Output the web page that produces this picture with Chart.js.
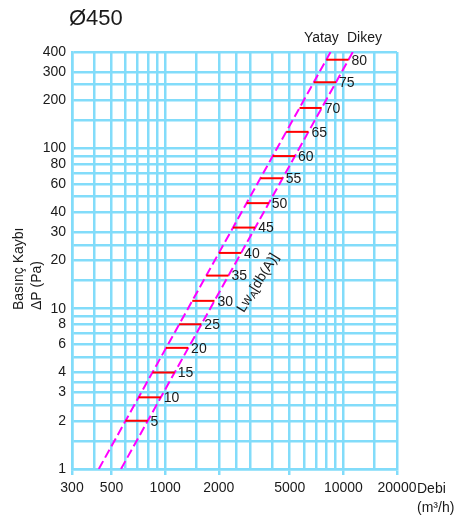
<!DOCTYPE html>
<html><head><meta charset="utf-8">
<script src="https://cdn.jsdelivr.net/npm/chart.js@4/dist/chart.umd.min.js"></script>
<style>html,body{margin:0;padding:0;background:#fff;} canvas{display:block;}</style>
</head><body>
<canvas id="c" width="454" height="528"></canvas>
<script>
const xGrid = [300,400,500,600,700,800,900,1000,1500,2000,2500,3000,4000,5000,6000,7000,8000,9000,10000,15000,20000];
const xLabels = [300,500,1000,2000,5000,10000,20000];
const yGrid = [1,1.5,2,2.5,3,3.5,4,5,6,7,8,9,10,15,20,25,30,40,50,60,70,80,90,100,150,200,250,300,400];
const yLabels = [1,2,3,4,6,8,10,20,30,40,60,80,100,200,300,400];
const yatayLine = [{x:424,y:1},{x:8480,y:400}];
const dikeyLine = [{x:565,y:1},{x:11300,y:400}];
const soundLevels = [5,10,15,20,25,30,35,40,45,50,55,60,65,70,75,80];
const segPressure = [2.0,2.8,4.0,5.7,8.0,11.2,16.1,22.3,32.1,45.6,65.2,89.7,127,179,259,358];
const segYatayFlow = [598,709,848,1010,1198,1419,1701,2002,2402,2863,3424,4016,4778,5673,6823,8022];
const segDikeyFlow = [797,945,1130,1345,1596,1891,2267,2668,3201,3815,4562,5351,6367,7559,9092,10690];

const GRID = '#82dcfa';
const TXT = '#1a1a1a';
const FONT = '"Liberation Sans", Arial, sans-serif';

const datasets = [];
soundLevels.forEach((lv, i) => {
  datasets.push({
    label: 'Lw ' + lv,
    data: [{x: segYatayFlow[i], y: segPressure[i]}, {x: segDikeyFlow[i], y: segPressure[i]}],
    borderColor: '#ff0000', borderWidth: 2, pointRadius: 0, fill: false, tension: 0
  });
});
datasets.push({label: 'Yatay', data: yatayLine, borderColor: '#ff00ff', borderWidth: 2, borderDash: [9,4], pointRadius: 0, fill: false});
datasets.push({label: 'Dikey', data: dikeyLine, borderColor: '#ff00ff', borderWidth: 2, borderDash: [9,4], pointRadius: 0, fill: false});

const textPlugin = {
  id: 'texts',
  afterDatasetsDraw(chart) {
    const {ctx, scales: {x, y}} = chart;
    ctx.save();
    ctx.fillStyle = TXT;
    ctx.font = '14px ' + FONT;
    ctx.textBaseline = 'middle';
    ctx.textAlign = 'left';
    soundLevels.forEach((lv, i) => {
      ctx.fillText(String(lv), x.getPixelForValue(segDikeyFlow[i]) + 3, y.getPixelForValue(segPressure[i]) + 1);
    });
    // Yatay / Dikey
    ctx.fillText('Yatay', 304, 38);
    ctx.fillText('Dikey', 347, 38);
    // Debi
    ctx.fillText('Debi', 417, 489);
    ctx.fillText('(m³/h)', 417, 508);
    // title
    ctx.font = '22px ' + FONT;
    ctx.fillText('Ø450', 69, 19);
    // y title
    ctx.font = '14px ' + FONT;
    ctx.save(); ctx.translate(19, 310); ctx.rotate(-Math.PI/2); ctx.fillText('Basınç Kaybı', 0, 0); ctx.restore();
    ctx.save(); ctx.translate(37, 310); ctx.rotate(-Math.PI/2); ctx.fillText('ΔP (Pa)', 0, 0); ctx.restore();
    // rotated LwA label
    ctx.save();
    ctx.translate(258, 283);
    ctx.rotate(-58 * Math.PI / 180);
    ctx.font = '14px ' + FONT;
    const w1 = ctx.measureText('Lw').width;
    const w3 = ctx.measureText('[db(A)]').width;
    ctx.font = '10px ' + FONT;
    const w2 = ctx.measureText('A').width;
    let sx = -(w1 + w2 + w3) / 2;
    ctx.font = '14px ' + FONT; ctx.fillText('Lw', sx, 0); sx += w1;
    ctx.font = '10px ' + FONT; ctx.fillText('A', sx, 3); sx += w2;
    ctx.font = '14px ' + FONT; ctx.fillText('[db(A)]', sx, 0);
    ctx.restore();
    ctx.restore();
  }
};

new Chart(document.getElementById('c'), {
  type: 'line',
  data: {datasets},
  options: {
    responsive: false, animation: false,
    layout: {padding: {left: 0, top: 52, right: 57, bottom: 0}},
    plugins: {legend: {display: false}, tooltip: {enabled: false}, title: {display: false}},
    scales: {
      x: {
        type: 'logarithmic', min: 300, max: 20000,
        afterBuildTicks: (s) => { s.ticks = xGrid.map(v => ({value: v})); },
        afterFit: (s) => { s.height = 59; },
        grid: {color: GRID, lineWidth: 2.5, drawTicks: true, tickLength: 6,
               tickColor: (c) => (c.tick && xLabels.includes(c.tick.value)) ? GRID : 'rgba(0,0,0,0)', tickWidth: 2.5},
        border: {color: GRID, width: 2.5},
        ticks: {autoSkip: false, maxRotation: 0, minRotation: 0, padding: 5, color: TXT,
                font: {size: 14, family: FONT},
                callback: (v) => xLabels.includes(v) ? String(v) : ''}
      },
      y: {
        type: 'logarithmic', min: 1, max: 400,
        afterBuildTicks: (s) => { s.ticks = yGrid.map(v => ({value: v})); },
        afterFit: (s) => { s.width = 72; },
        grid: {color: GRID, lineWidth: 2.5, drawTicks: false},
        border: {color: GRID, width: 2.5},
        ticks: {autoSkip: false, padding: 6, color: TXT,
                font: {size: 14, family: FONT},
                callback: (v) => yLabels.includes(v) ? String(v) : ''}
      }
    }
  },
  plugins: [textPlugin]
});
</script>
</body></html>
